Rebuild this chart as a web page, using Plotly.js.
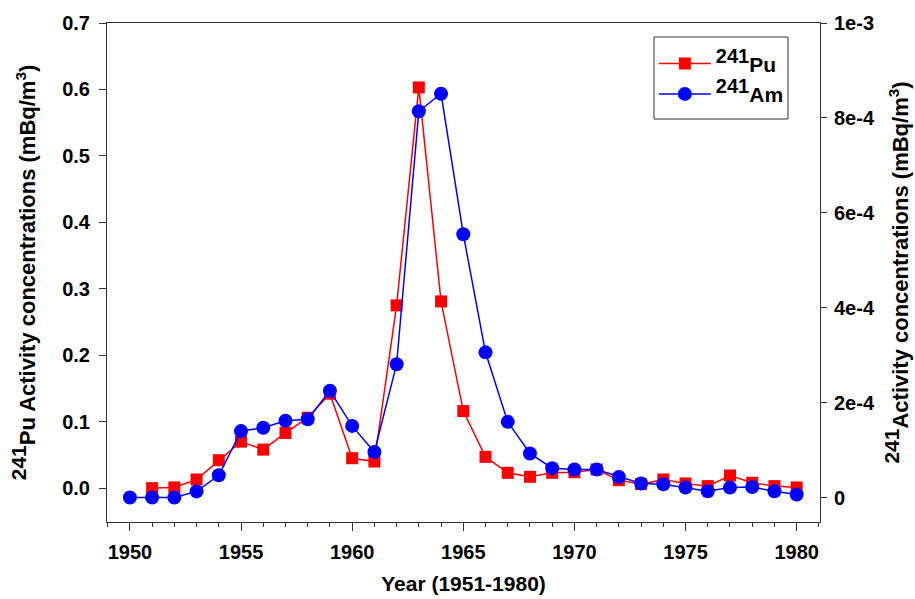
<!DOCTYPE html>
<html>
<head>
<meta charset="utf-8">
<script src="https://cdn.plot.ly/plotly-3.0.1.min.js"></script>
<style>html,body{margin:0;padding:0;background:#fff;}#chart{width:915px;height:599px;}</style>
</head>
<body>
<div id="chart"></div>
<script>
// Data
const yearsPu = [1951,1952,1953,1954,1955,1956,1957,1958,1959,1960,1961,1962,1963,1964,1965,1966,1967,1968,1969,1970,1971,1972,1973,1974,1975,1976,1977,1978,1979,1980];
const pu241 = [0.000,0.001,0.013,0.042,0.070,0.058,0.083,0.106,0.142,0.045,0.040,0.275,0.603,0.281,0.116,0.047,0.023,0.017,0.023,0.024,0.028,0.012,0.006,0.013,0.007,0.003,0.019,0.008,0.003,0.001];
const yearsAm = [1950,1951,1952,1953,1954,1955,1956,1957,1958,1959,1960,1961,1962,1963,1964,1965,1966,1967,1968,1969,1970,1971,1972,1973,1974,1975,1976,1977,1978,1979,1980];
const am241 = [0,0,0,1.3e-5,4.7e-5,1.40e-4,1.47e-4,1.62e-4,1.65e-4,2.25e-4,1.51e-4,9.6e-5,2.81e-4,8.14e-4,8.51e-4,5.55e-4,3.06e-4,1.595e-4,9.3e-5,6.2e-5,5.9e-5,5.9e-5,4.35e-5,2.95e-5,2.8e-5,2.1e-5,1.33e-5,2.1e-5,2.2e-5,1.33e-5,6.3e-6];
const leftTickVals = [0,0.1,0.2,0.3,0.4,0.5,0.6,0.7];
const rightTickVals = [0,2e-4,4e-4,6e-4,8e-4,1e-3];
const rightTickText = ['0','2e-4','4e-4','6e-4','8e-4','1e-3'];
const xTickVals = [1950,1955,1960,1965,1970,1975,1980];

const FONT = 'Arial, "Liberation Sans", sans-serif';
const AX = '#333333';
const big = (s, px) => "<sup><span style='font-size:" + px + "px'>" + s + "</span></sup>";

const traces = [
  {
    x: yearsPu, y: pu241, name: big('241', 20) + 'Pu', type: 'scatter', mode: 'lines+markers',
    line: {color: '#ff0000', width: 1.5},
    marker: {symbol: 'square', size: 12, color: '#ff0000'},
    yaxis: 'y'
  },
  {
    x: yearsAm, y: am241, name: big('241', 20) + 'Am', type: 'scatter', mode: 'lines+markers',
    line: {color: '#0000ff', width: 1.5},
    marker: {symbol: 'circle', size: 14, color: '#0000ff'},
    yaxis: 'y2'
  }
];

const layout = {
  width: 915, height: 599,
  margin: {l: 107, r: 95, t: 23, b: 77},
  paper_bgcolor: '#ffffff', plot_bgcolor: '#ffffff',
  font: {family: FONT, size: 20, color: '#000', weight: 'bold'},
  showlegend: true,
  legend: {
    x: 0.767, y: 0.959, xanchor: 'left', yanchor: 'top',
    bgcolor: 'rgba(0,0,0,0)', borderwidth: 0,
    font: {family: FONT, size: 21, color: '#000', weight: 'bold'},
    itemwidth: 52
  },
  shapes: [
    {type: 'rect', xref: 'paper', yref: 'paper', x0: 0.7672, x1: 0.9551, y0: 0.8076, y1: 0.9719,
     line: {color: AX, width: 1}, fillcolor: '#ffffff', layer: 'above'}
  ],
  xaxis: {
    range: [1948.97, 1981.05],
    tickvals: xTickVals,
    ticks: 'outside', ticklen: 8, tickwidth: 1, tickcolor: AX,
    ticklabelstandoff: 4,
    minor: {dtick: 1, ticks: 'outside', ticklen: 4, tickwidth: 1, tickcolor: AX, showgrid: false},
    showline: true, linecolor: AX, linewidth: 1, mirror: true,
    showgrid: false, zeroline: false,
    tickfont: {family: FONT, size: 20, color: '#000', weight: 'bold'},
    title: {text: 'Year (1951-1980)', font: {family: FONT, size: 21, color: '#000', weight: 'bold'}, standoff: 14}
  },
  yaxis: {
    range: [-0.051, 0.7],
    tickvals: leftTickVals, tickformat: '.1f',
    ticks: 'outside', ticklen: 7, tickwidth: 1, tickcolor: AX,
    ticklabelstandoff: 5,
    showline: true, linecolor: AX, linewidth: 1,
    showgrid: false, zeroline: false,
    tickfont: {family: FONT, size: 20, color: '#000', weight: 'bold'},
    title: {text: big('241', 21) + 'Pu Activity concentrations (mBq/m<sup>3</sup>)', font: {family: FONT, size: 22, color: '#000', weight: 'bold'}, standoff: 20}
  },
  yaxis2: {
    overlaying: 'y', side: 'right',
    range: [-5.15e-5, 1e-3],
    tickvals: rightTickVals, ticktext: rightTickText,
    ticks: 'outside', ticklen: 6, tickwidth: 1, tickcolor: AX,
    ticklabelstandoff: 3,
    showline: true, linecolor: AX, linewidth: 1,
    showgrid: false, zeroline: false,
    tickfont: {family: FONT, size: 20, color: '#000', weight: 'bold'},
    title: {text: big('241', 21) + 'Activity concentrations (mBq/m<sup>3</sup>)', font: {family: FONT, size: 22, color: '#000', weight: 'bold'}, standoff: 18}
  }
};

Plotly.newPlot('chart', traces, layout, {displayModeBar: false, staticPlot: true});
</script>
</body>
</html>
